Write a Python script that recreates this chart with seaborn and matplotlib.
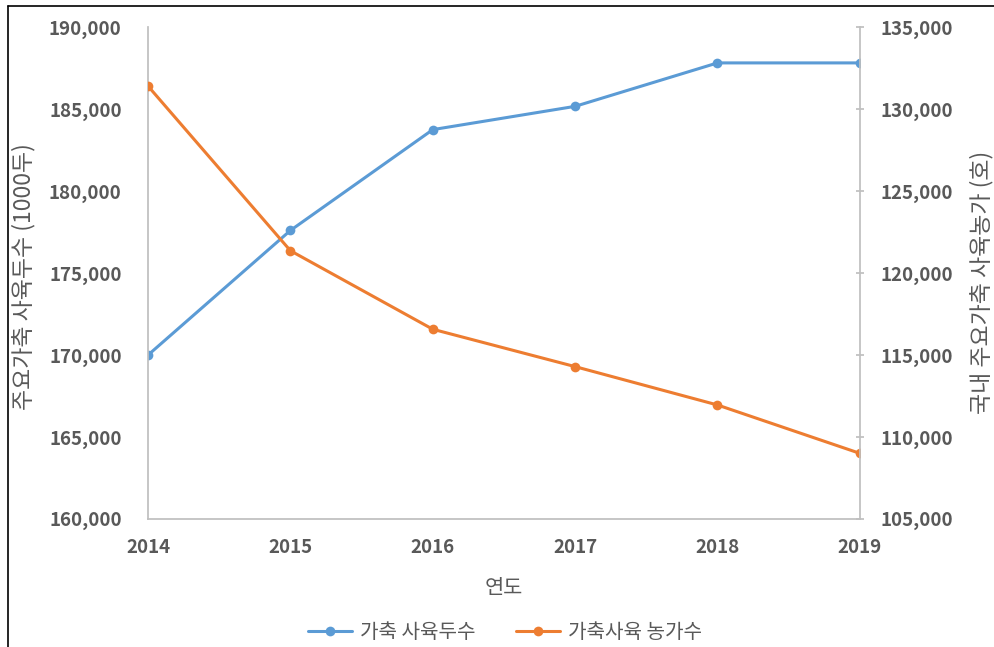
import matplotlib
matplotlib.use("Agg")
import matplotlib.pyplot as plt
import seaborn as sns
import pandas as pd
from matplotlib.lines import Line2D
from matplotlib.ticker import FuncFormatter

sns.set_theme(style="white")
plt.rcParams['font.family'] = ['Noto Sans CJK KR', 'DejaVu Sans']

years = [2014, 2015, 2016, 2017, 2018, 2019]
livestock_heads = [170000, 177600, 183750, 185170, 187820, 187820]
livestock_farms = [131400, 121360, 116570, 114290, 111950, 109000]
series_names = ["가축 사육두수", "가축사육 농가수"]

blue = "#5B9BD5"
orange = "#ED7D31"
gray = "#595959"
spine_col = "#BFBFBF"

df1 = pd.DataFrame({"year": years, "value": livestock_heads})
df2 = pd.DataFrame({"year": years, "value": livestock_farms})

fig = plt.figure(figsize=(9.94, 6.47), dpi=100)
ax = fig.add_axes([0.149, 0.198, 0.716, 0.760])
ax2 = ax.twinx()

sns.lineplot(data=df1, x="year", y="value", ax=ax, color=blue, marker="o",
             markersize=7, linewidth=2.2, markeredgewidth=0)
sns.lineplot(data=df2, x="year", y="value", ax=ax2, color=orange, marker="o",
             markersize=7, linewidth=2.2, markeredgewidth=0)

ax.set_xlim(2014, 2019)
ax.set_ylim(160000, 190000)
ax2.set_ylim(105000, 135000)
ax.set_yticks(range(160000, 190001, 5000))
ax2.set_yticks(range(105000, 135001, 5000))
ax.set_xticks(years)

fmt = FuncFormatter(lambda v, p: f"{int(v):,}")
ax.yaxis.set_major_formatter(fmt)
ax2.yaxis.set_major_formatter(fmt)

for a in (ax, ax2):
    for s in a.spines.values():
        s.set_visible(False)
    a.grid(False)
ax.spines['left'].set_visible(True)
ax.spines['left'].set_color(spine_col)
ax.spines['bottom'].set_visible(True)
ax.spines['bottom'].set_color(spine_col)
ax2.spines['right'].set_visible(True)
ax2.spines['right'].set_color(spine_col)

ax.tick_params(axis='y', length=0, pad=19, labelsize=13.5, labelcolor=gray)
ax.tick_params(axis='x', length=0, pad=14, labelsize=13.5, labelcolor=gray)
ax2.tick_params(axis='y', direction='inout', length=6, color=spine_col, pad=12,
                labelsize=13.5, labelcolor=gray, right=True)
for lab in ax.get_yticklabels() + ax.get_xticklabels() + ax2.get_yticklabels():
    lab.set_fontweight('bold')

ax.set_xlabel("연도", fontsize=15, color=gray, labelpad=14)
ax.set_ylabel("주요가축 사육두수 (1000두)", fontsize=16.5, color=gray)
ax2.set_ylabel("국내 주요가축 사육농가 (호)", fontsize=16.5, color=gray)
ax.yaxis.set_label_coords(-0.159, 0.492)
ax2.yaxis.set_label_coords(1.155, 0.48)

handles = [Line2D([0], [0], color=blue, marker="o", markersize=7, linewidth=2.2, markeredgewidth=0),
           Line2D([0], [0], color=orange, marker="o", markersize=7, linewidth=2.2, markeredgewidth=0)]
fig.legend(handles, series_names, loc="center", bbox_to_anchor=(0.508, 0.023), ncol=2,
           frameon=False, fontsize=14.5, labelcolor=gray, handlelength=2.2,
           columnspacing=2.0, handletextpad=0.4)

fig.add_artist(Line2D([0.008, 0.008], [0, 0.99], transform=fig.transFigure, color="black", linewidth=1.2))
fig.add_artist(Line2D([0.008, 1.0], [0.99, 0.99], transform=fig.transFigure, color="black", linewidth=1.2))

fig.savefig("out.png", dpi=100)
